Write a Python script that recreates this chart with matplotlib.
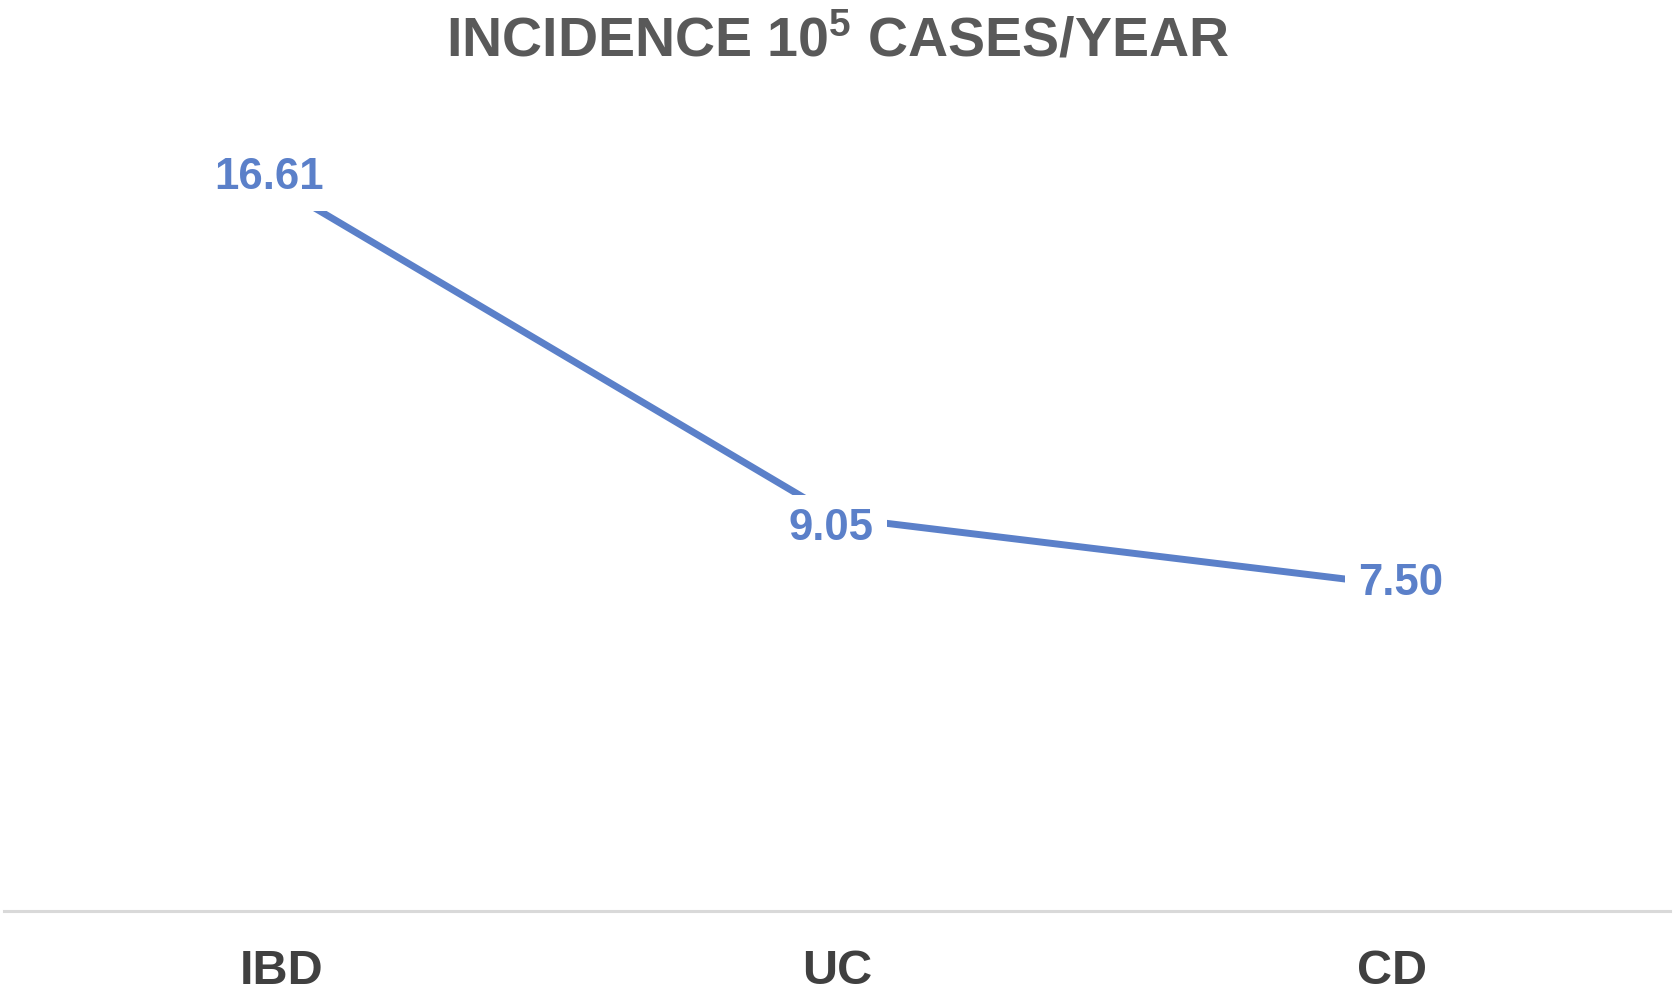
import matplotlib

matplotlib.use("Agg")
import matplotlib.pyplot as plt

categories = ["IBD", "UC", "CD"]
incidence = [16.61, 9.05, 7.50]
value_labels = ["16.61", "9.05", "7.50"]
title = r"INCIDENCE 10$^{\mathbf{5}}$ CASES/YEAR"

plt.rcParams["font.family"] = ["Liberation Sans", "DejaVu Sans"]
plt.rcParams["mathtext.fontset"] = "custom"
plt.rcParams["mathtext.rm"] = "Liberation Sans:bold"
plt.rcParams["mathtext.bf"] = "Liberation Sans:bold"
plt.rcParams["mathtext.it"] = "Liberation Sans:bold"

line_color = "#5B80C9"
fig = plt.figure(figsize=(16.75, 9.91), dpi=100)
ax = fig.add_axes([0.0024, 0.0807, 0.9946, 0.878])

x = list(range(len(categories)))
ax.plot(x, incidence, "-", color=line_color, linewidth=5, solid_capstyle="butt", zorder=2)

# label offsets in points (Excel-style labels sitting on the points)
offsets = [(-9, 8), (-4, -8), (6, 1)]
for xi, yi, lab, off in zip(x, incidence, value_labels, offsets):
    ax.annotate(lab, (xi, yi), xytext=off, textcoords="offset points",
                ha="center", va="center", fontsize=31.5, fontweight="bold",
                color=line_color, zorder=3,
                bbox=dict(boxstyle="square,pad=0.3", facecolor="white", edgecolor="none"))

ax.set_xlim(-0.5, len(categories) - 0.5)
ax.set_ylim(0, 20)
ax.set_xticks(x)
ax.set_xticklabels(categories, fontsize=35, fontweight="bold", color="#404040")
ax.tick_params(axis="x", length=0, pad=27)
ax.set_yticks([])
for side in ["top", "left", "right"]:
    ax.spines[side].set_visible(False)
ax.spines["bottom"].set_color("#D9D9D9")
ax.spines["bottom"].set_linewidth(2.2)

fig.text(0.5, 0.958, title, ha="center", va="center", fontsize=40,
         fontweight="bold", color="#595959")

fig.savefig("out.png", dpi=100)
plt.close(fig)
